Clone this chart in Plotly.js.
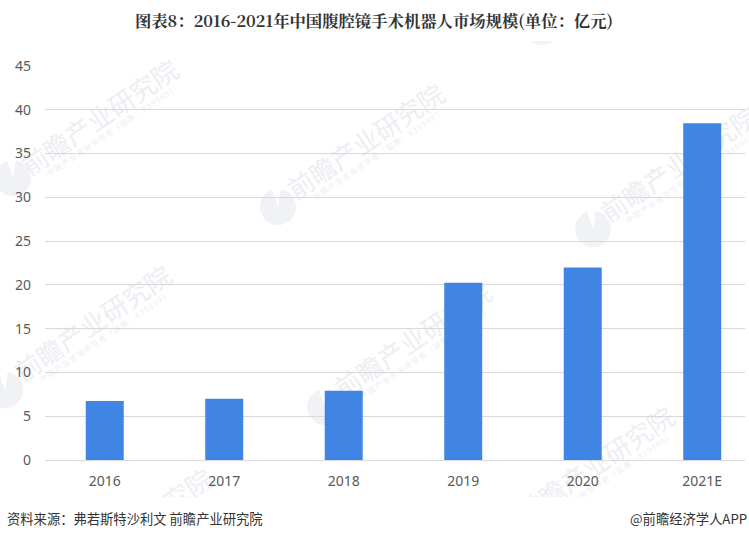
<!DOCTYPE html>
<html><head><meta charset="utf-8">
<script src="https://cdn.plot.ly/plotly-3.0.0.min.js"></script>
<style>
html,body{margin:0;padding:0;background:#fff;overflow:hidden}
#wm{position:absolute;left:0;top:41px;width:749px;height:456px;overflow:hidden;z-index:0}
#wm div{position:absolute;white-space:nowrap;font-family:'Noto Sans CJK SC',sans-serif;color:#eceef3}
#c{position:absolute;left:0;top:0;z-index:1}
</style></head>
<body><div id="wm"></div><div id="c" style="width:749px;height:539px"></div>
<script>
const categories=["2016","2017","2018","2019","2020","2021E"];
const values=[6.75,7.0,7.9,20.25,22.0,38.45];
const yTicks=[0,5,10,15,20,25,30,35,40,45];
const titleText="图表8：2016-2021年中国腹腔镜手术机器人市场规模(单位：亿元)";
const sourceText="资料来源：弗若斯特沙利文 前瞻产业研究院";
const brandText="@前瞻经济学人APP";
const watermarkText="前瞻产业研究院";
const watermarkSub="中国产业咨询领导者（股票：839599）";
const barColor="#4085E3";
const tickFont={family:"'Noto Sans',sans-serif",size:14,color:"#595959"};
const marks=[[99,116],[365,140],[678,163],[92,322],[412,339],[595,463],[133,525]];
const logos=[[13,178],[278,207],[593,229],[5,390],[325,407],[542,27]];
const wmBox=document.getElementById("wm");
function put(text,x,y,css){
 const d=document.createElement("div");
 d.textContent=text;
 d.style.cssText="left:"+x+"px;top:"+(y-41)+"px;transform:translate(-50%,-50%) rotate(-34deg);"+css;
 wmBox.appendChild(d);
}
marks.forEach(m=>{
 put(watermarkText,m[0],m[1],"font-size:26px;");
 put(watermarkSub,m[0]+13,m[1]+14,"font-size:7.5px;letter-spacing:1.3px;");
});
logos.forEach(m=>put("",m[0],m[1],"width:36px;height:36px;border-radius:50%;background:conic-gradient(from 15deg,#fff 0 28deg,#f0f2f6 28deg 360deg);"));
Plotly.newPlot("c",[{type:"bar",x:categories,y:values,marker:{color:barColor},width:0.318,hoverinfo:"skip"}],{
 width:749,height:539,paper_bgcolor:"rgba(0,0,0,0)",plot_bgcolor:"rgba(0,0,0,0)",showlegend:false,
 margin:{l:45,r:4,t:66,b:79},
 title:{text:"<b>"+titleText+"</b>",x:374/749,xanchor:"center",y:1-21/539,yanchor:"middle",font:{family:"'Noto Serif CJK SC','Noto Sans CJK SC',serif",size:16.35,color:"#333"}},
 xaxis:{type:"category",range:[-0.5,5.358],tickfont:tickFont,ticks:"",showgrid:false,showline:true,linecolor:"#d9d9d9",linewidth:1,ticklabelstandoff:8},
 yaxis:{range:[0,45],tickvals:yTicks,tickfont:tickFont,ticks:"",showgrid:true,gridcolor:"#d9d9d9",gridwidth:1,zeroline:false,ticklabelstandoff:13},
 annotations:[
  {text:sourceText,xref:"paper",yref:"paper",x:0,xshift:-40,y:0,yshift:-58,xanchor:"left",yanchor:"middle",showarrow:false,font:{family:"'Noto Sans CJK SC',sans-serif",size:13.3,color:"#333"}},
  {text:brandText,xref:"paper",yref:"paper",x:1,xshift:4,y:0,yshift:-58,xanchor:"right",yanchor:"middle",showarrow:false,font:{family:"'Noto Sans CJK SC',sans-serif",size:13.3,color:"#333"}}
 ]
},{displayModeBar:false,staticPlot:true});
</script></body></html>
